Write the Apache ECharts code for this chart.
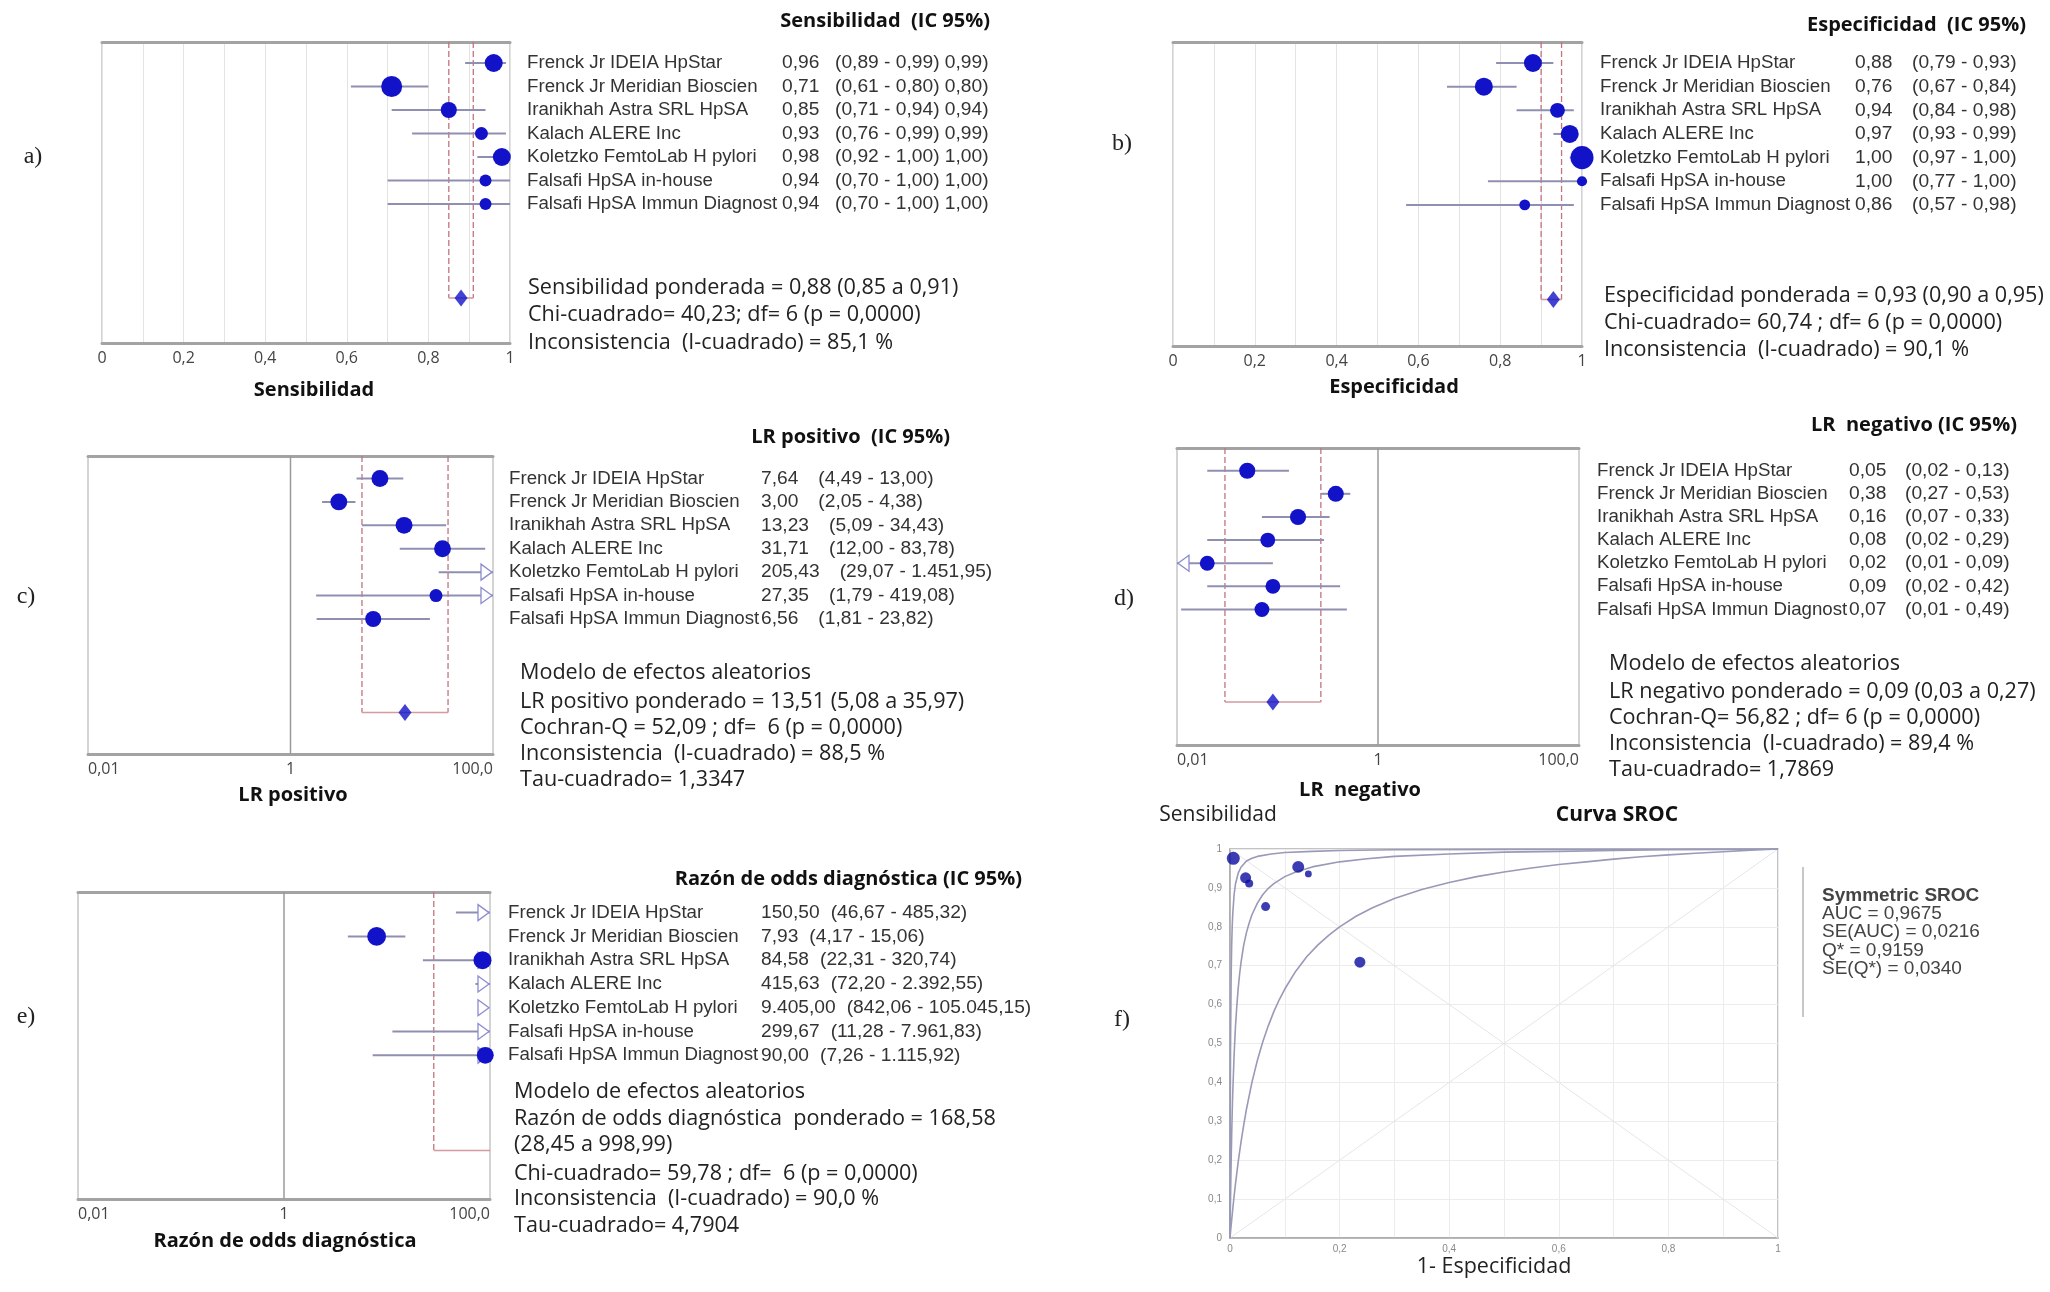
<!DOCTYPE html>
<html><head><meta charset="utf-8">
<script src="https://cdn.jsdelivr.net/npm/echarts@6/dist/echarts.min.js"></script>
<style>html,body{margin:0;padding:0;background:#fff}#c{width:2050px;height:1292px}</style>
</head><body><div id="c"></div>
<script>
// ---------------- DATA ----------------
const studies = ['Frenck Jr IDEIA HpStar','Frenck Jr Meridian Bioscien','Iranikhah Astra SRL HpSA','Kalach ALERE Inc','Koletzko FemtoLab H pylori','Falsafi HpSA in-house','Falsafi HpSA Immun Diagnost'];

// a) Sensibilidad
const sensEst = [0.96,0.71,0.85,0.93,0.98,0.94,0.94];
const sensLo  = [0.89,0.61,0.71,0.76,0.92,0.70,0.70];
const sensHi  = [0.99,0.80,0.94,0.99,1.00,1.00,1.00];
const sensWeight = [25,34,20,13,25,11,11];
const sensPooled = [0.88,0.85,0.91];
const sensStats = ['Sensibilidad ponderada = 0,88 (0,85 a 0,91)','Chi-cuadrado= 40,23; df= 6 (p = 0,0000)','Inconsistencia  (I-cuadrado) = 85,1 %'];

// b) Especificidad
const specEst = [0.88,0.76,0.94,0.97,1.00,1.00,0.86];
const specLo  = [0.79,0.67,0.84,0.93,0.97,0.77,0.57];
const specHi  = [0.93,0.84,0.98,0.99,1.00,1.00,0.98];
const specWeight = [25,25,17,25,41,8,9];
const specPooled = [0.93,0.90,0.95];
const specStats = ['Especificidad ponderada = 0,93 (0,90 a 0,95)','Chi-cuadrado= 60,74 ; df= 6 (p = 0,0000)','Inconsistencia  (I-cuadrado) = 90,1 %'];

// c) LR positivo
const lrpEst = [7.64,3.00,13.23,31.71,205.43,27.35,6.56];
const lrpLo  = [4.49,2.05,5.09,12.00,29.07,1.79,1.81];
const lrpHi  = [13.00,4.38,34.43,83.78,1451.95,419.08,23.82];
const lrpWeight = [22,22,22,22,22,13,20];
const lrpPooled = [13.51,5.08,35.97];
const lrpStats = ['Modelo de efectos aleatorios','LR positivo ponderado = 13,51 (5,08 a 35,97)','Cochran-Q = 52,09 ; df=  6 (p = 0,0000)','Inconsistencia  (I-cuadrado) = 88,5 %','Tau-cuadrado= 1,3347'];

// d) LR negativo
const lrnEst = [0.05,0.38,0.16,0.08,0.02,0.09,0.07];
const lrnLo  = [0.02,0.27,0.07,0.02,0.008,0.02,0.011];
const lrnHi  = [0.13,0.53,0.33,0.29,0.09,0.42,0.49];
const lrnWeight = [20,20,20,17,17,17,17];
const lrnPooled = [0.09,0.03,0.27];
const lrnStats = ['Modelo de efectos aleatorios','LR negativo ponderado = 0,09 (0,03 a 0,27)','Cochran-Q= 56,82 ; df= 6 (p = 0,0000)','Inconsistencia  (I-cuadrado) = 89,4 %','Tau-cuadrado= 1,7869'];

// e) Razón de odds diagnóstica
const dorEst = [150.50,7.93,84.58,415.63,9405.00,299.67,90.00];
const dorLo  = [46.67,4.17,22.31,72.20,842.06,11.28,7.26];
const dorHi  = [485.32,15.06,320.74,2392.55,105045.15,7961.83,1115.92];
const dorWeight = [25,27,25,25,25,25,22];
const dorPooled = [168.58,28.45,998.99];
const dorStats = ['Modelo de efectos aleatorios','Razón de odds diagnóstica  ponderado = 168,58','(28,45 a 998,99)','Chi-cuadrado= 59,78 ; df=  6 (p = 0,0000)','Inconsistencia  (I-cuadrado) = 90,0 %','Tau-cuadrado= 4,7904'];

// f) Curva SROC (1 - especificidad, sensibilidad)
const srocFpr = [0.006,0.0285,0.035,0.065,0.1245,0.143,0.237];
const srocTpr = [0.976,0.926,0.9115,0.852,0.954,0.936,0.709];
const srocWeight = [25,18,9.5,12,21,7,18];
const curveUpper = [[0,0],[0.0002,0.167],[0.0005,0.333],[0.001,0.5],[0.002,0.667],[0.003,0.75],[0.004,0.8],[0.005,0.833],[0.0075,0.883],[0.01,0.91],[0.015,0.938],[0.02,0.953],[0.03,0.969],[0.04,0.976],[0.05,0.981],[0.075,0.987],[0.1,0.991],[0.15,0.994],[0.2,0.996],[0.3,0.998],[0.5,0.999],[1,1]];
const curveMiddle = [[0,0],[0.0005,0.056],[0.001,0.106],[0.002,0.191],[0.003,0.262],[0.004,0.322],[0.005,0.372],[0.0075,0.471],[0.01,0.544],[0.0125,0.598],[0.015,0.642],[0.0175,0.678],[0.02,0.707],[0.025,0.753],[0.03,0.785],[0.035,0.81],[0.04,0.831],[0.05,0.861],[0.06,0.883],[0.07,0.899],[0.08,0.911],[0.1,0.929],[0.12,0.941],[0.15,0.954],[0.2,0.967],[0.25,0.975],[0.3,0.981],[0.4,0.987],[0.5,0.992],[0.6,0.994],[0.7,0.996],[0.8,0.998],[0.9,0.999],[1,1]];
const curveLower = [[0,0],[0.002,0.031],[0.005,0.074],[0.0075,0.108],[0.01,0.139],[0.015,0.196],[0.02,0.246],[0.025,0.29],[0.03,0.331],[0.04,0.4],[0.05,0.457],[0.06,0.505],[0.07,0.546],[0.08,0.582],[0.09,0.613],[0.1,0.64],[0.12,0.686],[0.14,0.723],[0.16,0.753],[0.18,0.778],[0.2,0.8],[0.23,0.827],[0.26,0.849],[0.3,0.873],[0.35,0.896],[0.4,0.914],[0.45,0.929],[0.5,0.941],[0.55,0.951],[0.6,0.96],[0.65,0.967],[0.7,0.974],[0.75,0.98],[0.8,0.985],[0.85,0.989],[0.9,0.993],[0.95,0.997],[1,1]];
const srocLegend = ['Symmetric SROC','AUC = 0,9675','SE(AUC) = 0,0216','Q* = 0,9159','SE(Q*) = 0,0340'];

// ---------------- STYLE / LAYOUT ----------------
const ARIAL = '"Liberation Sans", Arial, sans-serif';
const CAL = '"Open Sans", "Noto Sans", sans-serif';
const SERIF = '"Liberation Serif", "DejaVu Serif", serif';
const BLUE = '#1212c8';
const CI_COL = '#8f8fb2';
const POOL_COL = '#c4737f';
const ROW_SIZE = 18.7;
const NUM_SIZE = 19.2;
const STAT_SIZE = 21.6;

function fmt(v, d) {
  if (d === undefined) d = 2;
  const s = v.toFixed(d);
  const parts = s.split('.');
  const ip = parts[0].replace(/\B(?=(\d{3})+(?!\d))/g, '.');
  return parts[1] ? ip + ',' + parts[1] : ip;
}

const panels = [
  {key:'a', est:sensEst, lo:sensLo, hi:sensHi, w:sensWeight, pooled:sensPooled, stats:sensStats, log:false, xmin:0, xmax:1,
   title:'Sensibilidad  (IC 95%)', axisTitle:'Sensibilidad', dup:true,
   grid:{left:102,top:42,width:408,height:301}, y:[-0.894,11.915], labelX:527, valX:782, ciX:835, titlePos:[990,21], axisTitlePos:[314,390], letterPos:[33,157], statsX:528, statsY:[288,315,343]},
  {key:'b', est:specEst, lo:specLo, hi:specHi, w:specWeight, pooled:specPooled, stats:specStats, log:false, xmin:0, xmax:1,
   title:'Especificidad  (IC 95%)', axisTitle:'Especificidad',
   grid:{left:1173,top:42,width:409,height:304}, y:[-0.888,11.966], labelX:1600, valX:1855, ciX:1912, titlePos:[2026,25], axisTitlePos:[1394,387], letterPos:[1122,144], statsX:1604, statsY:[296,323,350]},
  {key:'c', est:lrpEst, lo:lrpLo, hi:lrpHi, w:lrpWeight, pooled:lrpPooled, stats:lrpStats, log:true, xmin:0.01, xmax:100,
   title:'LR positivo  (IC 95%)', axisTitle:'LR positivo',
   grid:{left:88,top:456,width:405,height:298}, y:[-0.962,11.77], labelX:509, valX:761, ciGap:20, titlePos:[950,437], axisTitlePos:[293,795], letterPos:[26,597], statsX:520, statsY:[673,702,728,754,780]},
  {key:'d', est:lrnEst, lo:lrnLo, hi:lrnHi, w:lrnWeight, pooled:lrnPooled, stats:lrnStats, log:true, xmin:0.01, xmax:100,
   title:'LR  negativo (IC 95%)', axisTitle:'LR  negativo',
   grid:{left:1177,top:448,width:402,height:297}, y:[-0.981,11.86], labelX:1597, valX:1849, ciX:1905, titlePos:[2017,425], axisTitlePos:[1360,790], letterPos:[1124,599], statsX:1609, statsY:[664,692,718,744,770]},
  {key:'e', est:dorEst, lo:dorLo, hi:dorHi, w:dorWeight, pooled:dorPooled, stats:dorStats, log:true, xmin:0.01, xmax:100,
   title:'Razón de odds diagnóstica (IC 95%)', axisTitle:'Razón de odds diagnóstica',
   grid:{left:78,top:892,width:412,height:307}, y:[-0.866,12.04], labelX:508, valX:761, ciGap:11, titlePos:[1022,879], axisTitlePos:[285,1241], letterPos:[26,1017], statsX:514, statsY:[1092,1119,1145,1174,1199,1226]}
];

const grids = [], xAxes = [], yAxes = [], series = [];
const POOL_ROW = 10;

function linFmt(v) {
  const t = Math.round(v * 10);
  if (t % 2 !== 0) return '';
  if (t === 0) return '0';
  if (t === 10) return '1';
  return fmt(v, 1);
}
function logFmt(v) {
  const e = Math.round(Math.log10(v));
  if (e === -2) return '0,01';
  if (e === 0) return '1';
  if (e === 2) return '100,0';
  return '';
}

panels.forEach(function (P, k) {
  const xb = 2 * k, yi = k;
  grids.push(Object.assign({show: true, borderColor: '#a8a8a8', borderWidth: 1, backgroundColor: '#fff'}, P.grid));
  const axType = P.log ? 'log' : 'value';
  const bottom = {
    gridIndex: k, type: axType, min: P.xmin, max: P.xmax, position: 'bottom',
    axisLine: {show: true, onZero: false, lineStyle: {color: '#a3a3a3', width: 3}},
    axisTick: {show: false},
    axisLabel: {fontFamily: CAL, fontSize: 16, color: '#444', margin: 7,
      formatter: P.log ? logFmt : linFmt, showMinLabel: true, showMaxLabel: true,
      alignMinLabel: P.log ? 'left' : 'center', alignMaxLabel: P.log ? 'right' : 'center'},
    splitLine: {show: !P.log, lineStyle: {color: '#e3e3e3', width: 1}}
  };
  if (P.log) bottom.logBase = 10; else bottom.interval = 0.1;
  xAxes.push(bottom);
  const top = {gridIndex: k, type: axType, min: P.xmin, max: P.xmax, position: 'top',
    axisLine: {show: true, onZero: false, lineStyle: {color: '#a3a3a3', width: 3}},
    axisTick: {show: false}, axisLabel: {show: false}, splitLine: {show: false}};
  if (P.log) top.logBase = 10; else top.interval = 0.1;
  xAxes.push(top);
  yAxes.push({gridIndex: k, type: 'value', inverse: true, min: P.y[0], max: P.y[1], show: false});

  if (P.log) {
    series.push({type: 'line', xAxisIndex: xb, yAxisIndex: yi, silent: true, symbol: 'none', z: 1,
      data: [[1, P.y[0]], [1, P.y[1]]], lineStyle: {color: '#9a9a9a', width: 1.5}});
  }
  // pooled CI (dashed verticals + horizontal)
  series.push({type: 'custom', xAxisIndex: xb, yAxisIndex: yi, silent: true, z: 2,
    data: [[P.pooled[1], P.pooled[2], P.pooled[0]]],
    renderItem: function (params, api) {
      const lo = api.value(0), hi = api.value(1);
      const yTop = api.coord([P.xmin, P.y[0]])[1];
      const yRow = api.coord([P.xmin, POOL_ROW])[1];
      const ch = [];
      [lo, hi].forEach(function (v) {
        if (v >= P.xmin && v <= P.xmax) {
          const x = api.coord([v, POOL_ROW])[0];
          ch.push({type: 'line', shape: {x1: x, y1: yTop, x2: x, y2: yRow}, style: {stroke: POOL_COL, lineWidth: 1.3, lineDash: [6, 3]}});
        }
      });
      const a = api.coord([Math.max(lo, P.xmin), POOL_ROW])[0], b = api.coord([Math.min(hi, P.xmax), POOL_ROW])[0];
      ch.push({type: 'line', shape: {x1: a, y1: yRow, x2: b, y2: yRow}, style: {stroke: '#d39aa0', lineWidth: 1.6}});
      return {type: 'group', children: ch};
    }});
  // study CI lines
  series.push({type: 'custom', xAxisIndex: xb, yAxisIndex: yi, silent: true, z: 3,
    data: P.lo.map(function (l, i) { return [l, P.hi[i], i]; }),
    renderItem: function (params, api) {
      const lo = api.value(0), hi = api.value(1), row = api.value(2);
      const y = api.coord([P.xmin, row])[1];
      const l = Math.max(lo, P.xmin), h = Math.min(hi, P.xmax);
      const ch = [];
      if (l < h) {
        ch.push({type: 'line', shape: {x1: api.coord([l, row])[0], y1: y, x2: api.coord([h, row])[0], y2: y}, style: {stroke: CI_COL, lineWidth: 2}});
      }
      if (P.log && hi > P.xmax) {
        const x = api.coord([P.xmax, row])[0] - 1;
        ch.push({type: 'polygon', shape: {points: [[x - 11, y - 8], [x, y], [x - 11, y + 8]]}, style: {fill: '#fff', stroke: '#8c8cd0', lineWidth: 1.3}});
      }
      if (P.log && lo < P.xmin) {
        const x = api.coord([P.xmin, row])[0] + 1;
        ch.push({type: 'polygon', shape: {points: [[x + 11, y - 8], [x, y], [x + 11, y + 8]]}, style: {fill: '#fff', stroke: '#8c8cd0', lineWidth: 1.3}});
      }
      return {type: 'group', children: ch};
    }});
  // point estimates
  series.push({type: 'scatter', xAxisIndex: xb, yAxisIndex: yi, silent: true, z: 4,
    data: P.est.map(function (v, i) { return {value: [v, i], symbolSize: 3.6 * Math.sqrt(P.w[i])}; })
      .filter(function (d) { return d.value[0] >= P.xmin && d.value[0] <= P.xmax; }),
    itemStyle: {color: BLUE, opacity: 1}});
  // pooled diamond
  series.push({type: 'scatter', xAxisIndex: xb, yAxisIndex: yi, silent: true, z: 5, symbol: 'diamond', symbolSize: [13, 17],
    data: [[P.pooled[0], POOL_ROW]].filter(function (d) { return d[0] >= P.xmin && d[0] <= P.xmax; }),
    itemStyle: {color: BLUE}});
});

// f) SROC
const FG = 5;
grids.push({left: 1230, top: 849, width: 548, height: 389, show: true, borderColor: '#b0b0b0', borderWidth: 1.5, backgroundColor: '#fff'});
xAxes.push({gridIndex: FG, type: 'value', min: 0, max: 1, interval: 0.1,
  axisLine: {show: true, lineStyle: {color: '#a8a8a8', width: 1.5}}, axisTick: {show: false},
  axisLabel: {fontFamily: ARIAL, fontSize: 10, color: '#888', margin: 6, formatter: linFmt, showMinLabel: true, showMaxLabel: true},
  splitLine: {show: true, lineStyle: {color: '#ececec'}}});
yAxes.push({gridIndex: FG, type: 'value', min: 0, max: 1, interval: 0.1,
  axisLine: {show: true, lineStyle: {color: '#a8a8a8', width: 1.5}}, axisTick: {show: false},
  axisLabel: {fontFamily: ARIAL, fontSize: 10, color: '#888', margin: 8,
    formatter: function (v) { const t = Math.round(v * 10); return t === 0 ? '0' : (t === 10 ? '1' : fmt(v, 1)); }},
  splitLine: {show: true, lineStyle: {color: '#ececec'}}});
const fx = xAxes.length - 1;
series.push({type: 'line', xAxisIndex: fx, yAxisIndex: FG, silent: true, symbol: 'none', z: 1, data: [[0, 0], [1, 1]], lineStyle: {color: '#e6e6e6', width: 1}});
series.push({type: 'line', xAxisIndex: fx, yAxisIndex: FG, silent: true, symbol: 'none', z: 1, data: [[0, 1], [1, 0]], lineStyle: {color: '#e6e6e6', width: 1}});
[curveUpper, curveMiddle, curveLower].forEach(function (c) {
  series.push({type: 'line', xAxisIndex: fx, yAxisIndex: FG, silent: true, symbol: 'none', z: 2, smooth: false,
    data: c, lineStyle: {color: '#9999b8', width: 1.6}});
});
series.push({type: 'scatter', xAxisIndex: fx, yAxisIndex: FG, silent: true, z: 4,
  data: srocFpr.map(function (x, i) { return {value: [x, srocTpr[i]], symbolSize: 2.6 * Math.sqrt(srocWeight[i])}; }),
  itemStyle: {color: '#0d0da0'}});

const chart = echarts.init(document.getElementById('c'), null, {renderer: 'canvas'});
chart.setOption({animation: false, backgroundColor: '#fff', grid: grids, xAxis: xAxes, yAxis: yAxes, series: series});

// ---------------- TEXT ----------------
const meas = document.createElement('canvas').getContext('2d');
function tw(text, font) { meas.font = font; return meas.measureText(text).width; }
const g = [];
function txt(text, x, y, opt) {
  opt = opt || {};
  const size = opt.size || ROW_SIZE, fam = opt.family || ARIAL, weight = opt.weight || 'normal';
  g.push({type: 'text', x: x, y: y, silent: true, z: 100,
    style: {text: text, fill: opt.color || '#222', font: weight + ' ' + size + 'px ' + fam,
      textAlign: opt.align || 'left', textVerticalAlign: 'middle', align: opt.align || 'left', verticalAlign: 'middle'}});
}

panels.forEach(function (P, k) {
  const numFont = 'normal ' + NUM_SIZE + 'px ' + ARIAL;
  studies.forEach(function (s, i) {
    const y = chart.convertToPixel({yAxisIndex: k}, i);
    txt(s, P.labelX, y, {color: '#333'});
    const vt = fmt(P.est[i]);
    txt(vt, P.valX, y, {color: '#333', size: NUM_SIZE});
    let ci = '(' + fmt(P.lo[i]) + ' - ' + fmt(P.hi[i]) + ')';
    if (P.dup) ci = ci + ' ' + fmt(P.hi[i]) + ')';
    const cx = (P.ciGap !== undefined) ? P.valX + tw(vt, numFont) + P.ciGap : P.ciX;
    txt(ci, cx, y, {color: '#333', size: NUM_SIZE});
  });
  txt(P.title, P.titlePos[0], P.titlePos[1], {family: CAL, size: 20, weight: 'bold', align: 'right', color: '#111'});
  txt(P.axisTitle, P.axisTitlePos[0], P.axisTitlePos[1], {family: CAL, size: 20, weight: 'bold', align: 'center', color: '#111'});
  txt(P.key + ')', P.letterPos[0], P.letterPos[1], {family: SERIF, size: 24, align: 'center', color: '#222'});
  P.stats.forEach(function (s, j) { txt(s, P.statsX, P.statsY[j], {family: CAL, size: STAT_SIZE, color: '#222'}); });
});

// SROC texts
txt('Sensibilidad', 1218, 815, {family: CAL, size: 21, align: 'center', color: '#222'});
txt('Curva SROC', 1617, 815, {family: CAL, size: 21, weight: 'bold', align: 'center', color: '#111'});
txt('1- Especificidad', 1494, 1267, {family: CAL, size: 21.5, align: 'center', color: '#222'});
txt('f)', 1122, 1020, {family: SERIF, size: 24, align: 'center', color: '#222'});
srocLegend.forEach(function (s, j) {
  txt(s, 1822, 896 + j * 18.1, {family: ARIAL, size: 19, weight: j === 0 ? 'bold' : 'normal', color: '#444'});
});
g.push({type: 'line', silent: true, shape: {x1: 1803, y1: 867, x2: 1803, y2: 1017}, style: {stroke: '#b4b4b4', lineWidth: 1.5}});

chart.setOption({graphic: g});
</script>
</body></html>
